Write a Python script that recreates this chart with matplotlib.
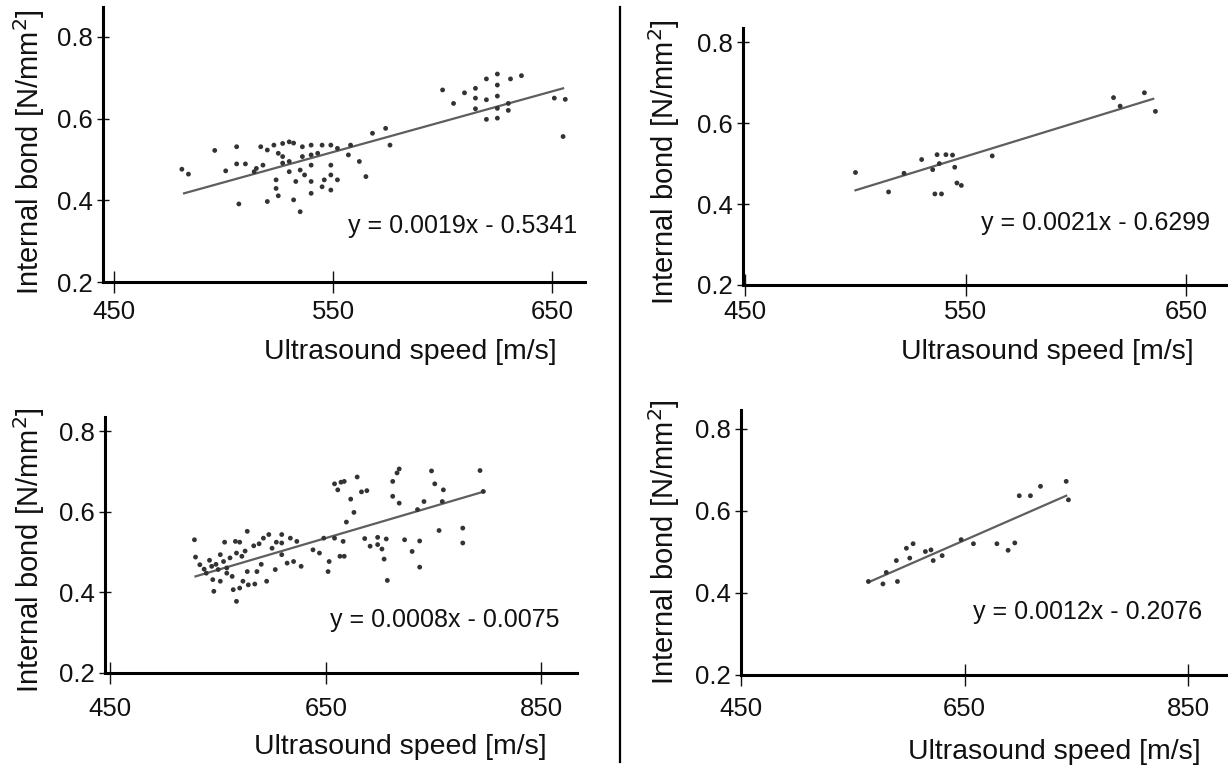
import matplotlib
matplotlib.use("Agg")
import matplotlib.pyplot as plt
from matplotlib.lines import Line2D

plt.rcParams['font.family'] = ['Liberation Sans', 'DejaVu Sans']

# ---------------- data ----------------
# Panel 1 (top-left)
p1_x = [481, 484, 496, 506, 501, 506, 510, 514, 507, 520,
        517, 520, 515, 518, 523, 527, 530, 532, 525, 527, 527, 530, 536, 540, 545, 549, 552,
        536, 540, 543, 540, 535, 537, 530, 549, 549, 552, 546, 540, 533, 549, 540, 524, 524,
        525, 532, 535, 545, 557, 558, 562, 565, 568, 574, 576,
        600, 605, 610, 615, 615, 615, 620, 625, 631, 636, 625, 625, 620, 620, 625, 625, 630, 630,
        651, 656, 655]
p1_y = [0.476, 0.464, 0.522, 0.531, 0.472, 0.489, 0.489, 0.470, 0.391, 0.397,
        0.531, 0.523, 0.478, 0.486, 0.535, 0.539, 0.543, 0.540, 0.515, 0.507, 0.491, 0.495, 0.531, 0.535, 0.535, 0.535, 0.527,
        0.507, 0.511, 0.515, 0.486, 0.474, 0.462, 0.470, 0.486, 0.462, 0.450, 0.450, 0.446, 0.446, 0.425, 0.417, 0.450, 0.429,
        0.411, 0.401, 0.372, 0.433, 0.511, 0.535, 0.495, 0.458, 0.564, 0.576, 0.535,
        0.670, 0.637, 0.663, 0.674, 0.650, 0.624, 0.697, 0.709, 0.697, 0.705, 0.682, 0.655, 0.646, 0.598, 0.601, 0.625, 0.637, 0.620,
        0.650, 0.647, 0.556]
p1_trend_x = [482, 655]
p1_trend_y = [0.417, 0.674]
p1_eq = "y = 0.0019x - 0.5341"

# Panel 2 (top-right)
p2_x = [500, 515, 522, 530, 535, 537, 541, 544, 536, 539, 545, 546, 548, 538, 562, 617, 620, 631, 636]
p2_y = [0.478, 0.430, 0.476, 0.510, 0.485, 0.522, 0.522, 0.521, 0.425, 0.425, 0.491, 0.452, 0.446, 0.500, 0.519,
        0.663, 0.642, 0.675, 0.629]
p2_trend_x = [500, 635]
p2_trend_y = [0.434, 0.660]
p2_eq = "y = 0.0021x - 0.6299"

# Panel 3 (bottom-left)
p3_x = [528, 529, 542, 544, 552, 555, 556, 566, 570, 577, 567, 572, 583, 588, 592, 597, 550, 558, 539, 545,
        552, 558, 577, 586, 573, 546, 564, 570, 578, 584, 567, 595, 609, 609, 609, 617, 623, 614, 620, 627,
        603, 638, 644, 648, 653, 652, 533, 537, 548, 561, 575, 563, 590, 600, 604,
        658, 666, 663, 667, 664, 658, 667, 661, 679, 683, 688, 673, 676, 669, 686, 698, 706, 691, 698, 702,
        704, 707, 716, 718, 712, 712, 718, 723, 737, 730, 737, 735, 741, 748, 751, 759, 758, 755, 777, 777,
        793, 796]
p3_y = [0.531, 0.488, 0.480, 0.465, 0.494, 0.477, 0.525, 0.527, 0.525, 0.552, 0.498, 0.490, 0.516, 0.521, 0.535, 0.544,
        0.457, 0.461, 0.448, 0.432, 0.428, 0.448, 0.452, 0.452, 0.428, 0.403, 0.407, 0.411, 0.419, 0.421, 0.378,
        0.428, 0.544, 0.523, 0.494, 0.535, 0.527, 0.473, 0.477, 0.465, 0.457, 0.506, 0.498, 0.535, 0.477, 0.452,
        0.469, 0.458, 0.470, 0.486, 0.503, 0.440, 0.470, 0.510, 0.525,
        0.535, 0.527, 0.490, 0.490, 0.674, 0.670, 0.676, 0.655, 0.687, 0.650, 0.653, 0.632, 0.599, 0.575, 0.534,
        0.537, 0.533, 0.515, 0.519, 0.508, 0.483, 0.430, 0.697, 0.707, 0.676, 0.639, 0.622, 0.531, 0.528, 0.502,
        0.463, 0.606, 0.626, 0.702, 0.670, 0.655, 0.626, 0.554, 0.560, 0.523, 0.703, 0.651]
p3_trend_x = [529, 797]
p3_trend_y = [0.440, 0.651]
p3_eq = "y = 0.0008x - 0.0075"

# Panel 4 (bottom-right)
p4_x = [564, 577, 580, 589, 590, 598, 604, 601, 615, 620, 622, 630, 647, 658, 679, 689, 695, 699, 709, 718, 741, 743]
p4_y = [0.428, 0.422, 0.450, 0.479, 0.428, 0.509, 0.520, 0.485, 0.501, 0.505, 0.479, 0.491, 0.530, 0.520, 0.520,
        0.504, 0.522, 0.637, 0.637, 0.660, 0.672, 0.627]
p4_trend_x = [564, 741]
p4_trend_y = [0.426, 0.637]
p4_eq = "y = 0.0012x - 0.2076"

y_ticks = [0.2, 0.4, 0.6, 0.8]
y_ticklabels = ["0.2", "0.4", "0.6", "0.8"]
x_ticks_top = [450, 550, 650]
x_ticks_bottom = [450, 650, 850]
x_label = "Ultrasound speed [m/s]"
y_label = "Internal bond [N/mm$^2$]"

# ---------------- figure ----------------
W, H = 1228, 769
fig = plt.figure(figsize=(W / 100, H / 100), dpi=100)
fig.patch.set_facecolor("white")


def px_axes(left, right, bottom, top):
    return fig.add_axes([left / W, 1 - bottom / H, (right - left) / W, (bottom - top) / H])


panels = [
    dict(box=(103, 585, 282, 7), xlim=(445, 665), ylim=(0.2, 0.873), xt=x_ticks_top,
         x=p1_x, y=p1_y, tx=p1_trend_x, ty=p1_trend_y, eq=p1_eq, eqpos=(557, 0.338),
         xpad=5.0, xl=(0.637, -0.255), yl=(-0.154, 0.473)),
    dict(box=(743, 1226, 285, 28), xlim=(449, 668), ylim=(0.2, 0.835), xt=x_ticks_top,
         x=p2_x, y=p2_y, tx=p2_trend_x, ty=p2_trend_y, eq=p2_eq, eqpos=(557, 0.353),
         xpad=3.0, xl=(0.631, -0.261), yl=(-0.164, 0.479)),
    dict(box=(105, 577, 673, 417), xlim=(445, 883), ylim=(0.2, 0.836), xt=x_ticks_bottom,
         x=p3_x, y=p3_y, tx=p3_trend_x, ty=p3_trend_y, eq=p3_eq, eqpos=(654, 0.332),
         xpad=9.0, xl=(0.625, -0.289), yl=(-0.161, 0.48)),
    dict(box=(741, 1226, 675, 410), xlim=(450, 884), ylim=(0.2, 0.846), xt=x_ticks_bottom,
         x=p4_x, y=p4_y, tx=p4_trend_x, ty=p4_trend_y, eq=p4_eq, eqpos=(658, 0.354),
         xpad=7.5, xl=(0.645, -0.291), yl=(-0.159, 0.50)),
]

for p in panels:
    l, r, b, t = p["box"]
    ax = px_axes(l, r, b, t)
    ax.set_xlim(*p["xlim"])
    ax.set_ylim(*p["ylim"])
    ax.set_facecolor("white")
    for s in ("top", "right"):
        ax.spines[s].set_visible(False)
    for s in ("left", "bottom"):
        ax.spines[s].set_linewidth(2.2)
        ax.spines[s].set_color("black")
    ax.set_xticks(p["xt"])
    ax.set_xticklabels([str(v) for v in p["xt"]])
    ax.set_yticks(y_ticks)
    ax.set_yticklabels(y_ticklabels)
    ax.tick_params(axis="x", direction="inout", length=16, width=1.0, pad=p["xpad"],
                   labelsize=18.5, colors="#111111")
    ax.tick_params(axis="y", direction="inout", length=9, width=1.0, pad=3.0,
                   labelsize=18.5, colors="#111111")
    ax.plot(p["tx"], p["ty"], color="#5e5e5e", lw=1.6, zorder=2)
    ax.scatter(p["x"], p["y"], s=12, color="#333333", edgecolors="none", zorder=3, clip_on=False)
    ax.text(p["eqpos"][0], p["eqpos"][1], p["eq"], ha="left", va="center",
            fontsize=18, color="#111111")
    ax.set_xlabel(x_label, fontsize=20.5, va="center", ha="center", color="#111111")
    ax.set_ylabel(y_label, fontsize=21, va="center", ha="center", color="#111111")
    ax.xaxis.set_label_coords(*p["xl"])
    ax.yaxis.set_label_coords(*p["yl"])

# vertical divider between columns
fig.add_artist(Line2D([620 / W, 620 / W], [1 - 7 / H, 1 - 762 / H], color="black", lw=1.6,
                      transform=fig.transFigure))

fig.savefig("out.png", dpi=100, facecolor="white")
